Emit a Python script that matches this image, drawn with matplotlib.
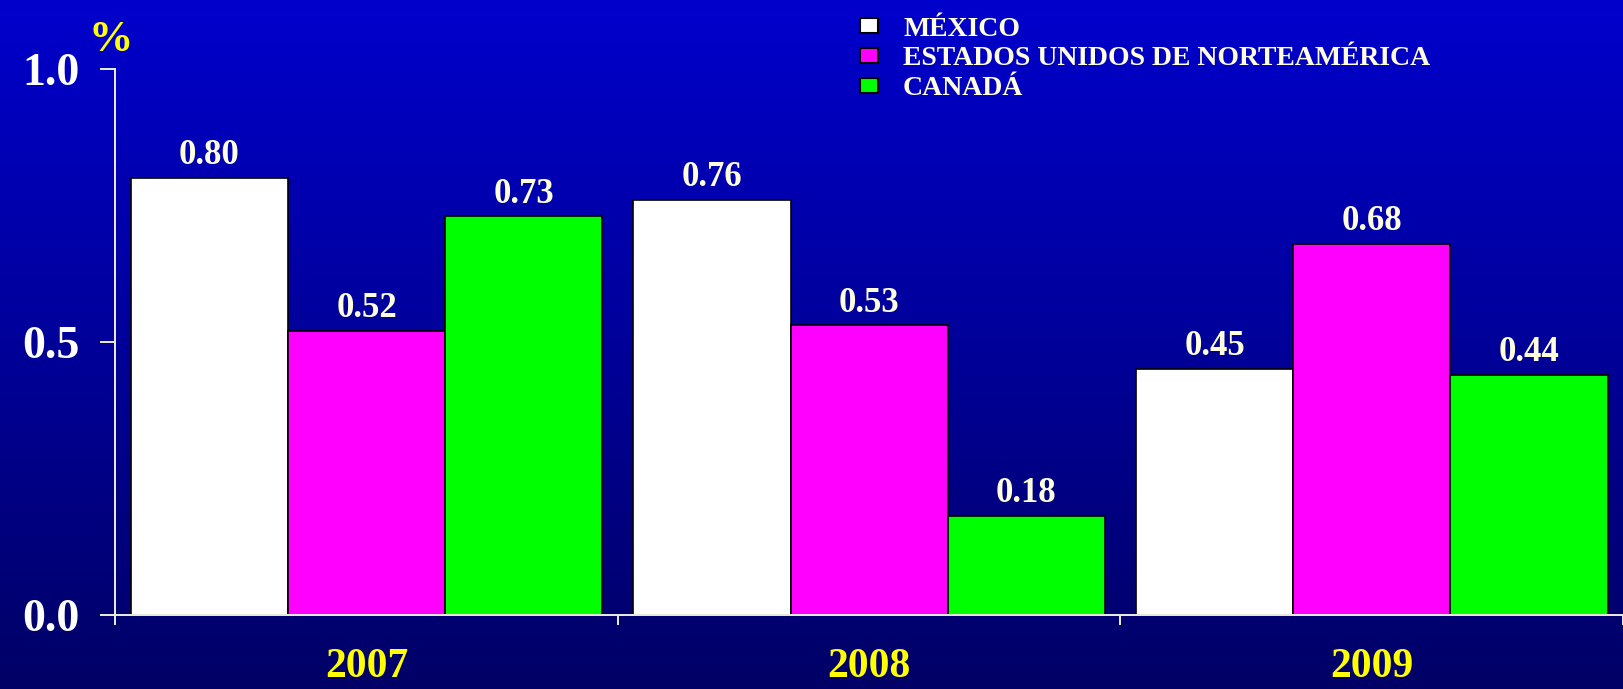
import numpy as np
import matplotlib.pyplot as plt
from matplotlib.patches import Patch
from matplotlib.colors import LinearSegmentedColormap

years = ['2007', '2008', '2009']
countries = ['MÉXICO', 'ESTADOS UNIDOS DE NORTEAMÉRICA', 'CANADÁ']
mexico = [0.80, 0.76, 0.45]
usa = [0.52, 0.53, 0.68]
canada = [0.73, 0.18, 0.44]
colors = ['#FFFFFF', '#FF00FF', '#00FF00']

serif = 'Liberation Serif'
cream = '#FFFFDD'
axis_c = '#EEEED8'

fig = plt.figure(figsize=(16.23, 6.89), dpi=100)

# vertical blue gradient behind everything
bg = fig.add_axes([0, 0, 1, 1], zorder=-1)
grad = np.linspace(0, 1, 256).reshape(-1, 1)
cmap = LinearSegmentedColormap.from_list('bg', ['#0000CC', '#000066'])
bg.imshow(grad, aspect='auto', cmap=cmap, extent=[0, 1, 0, 1])
bg.axis('off')

ax = fig.add_axes([0.07104, 0.1081, 1 - 0.07104, 0.7915])
ax.patch.set_alpha(0)

x = np.arange(len(years))
w = 0.3128
for i, (vals, c) in enumerate(zip([mexico, usa, canada], colors)):
    bars = ax.bar(x + (i - 1) * w, vals, w, color=c, edgecolor='black',
                  linewidth=1.2, label=countries[i])
    for b, v in zip(bars, vals):
        ax.annotate(f'{v:.2f}', (b.get_x() + b.get_width() / 2, v),
                    xytext=(0, 10), textcoords='offset points',
                    ha='center', va='baseline', color=cream,
                    fontsize=25, fontweight='bold', family=serif)

ax.set_ylim(0, 1)
ax.set_xlim(-0.5, 2.472)

# spines
ax.spines['top'].set_visible(False)
ax.spines['right'].set_visible(False)
for s in ['left', 'bottom']:
    ax.spines[s].set_color(axis_c)
    ax.spines[s].set_linewidth(1.4)

# y axis
ax.set_yticks([0, 0.5, 1.0], ['0.0', '0.5', '1.0'])
ax.tick_params(axis='y', length=11, width=1.4, color=axis_c, pad=15,
               labelcolor='white', labelsize=33)
for lab in ax.get_yticklabels():
    lab.set_fontweight('bold')
    lab.set_family(serif)

# x axis: ticks between groups, year labels in the middle
ax.set_xticks([-0.5, 0.5, 1.5, 2.5])
ax.set_xticklabels([])
ax.tick_params(axis='x', which='major', length=7.5, width=1.4, color=axis_c)
ax.set_xticks(x, minor=True)
ax.set_xticklabels(years, minor=True)
ax.tick_params(axis='x', which='minor', length=0, pad=24,
               labelcolor='#FFFF00', labelsize=30)
for lab in ax.get_xticklabels(minor=True):
    lab.set_fontweight('bold')
    lab.set_family(serif)

fig.text(0.0681, 0.926, '%', color='#FFFF00', fontsize=32,
         fontweight='bold', family=serif, ha='center', va='baseline')

handles = [Patch(facecolor=c, edgecolor='black', linewidth=1.5) for c in colors]
leg = fig.legend(handles, countries, loc='upper left',
                 bbox_to_anchor=(0.5299, 0.976), frameon=False,
                 borderpad=0, borderaxespad=0, handlelength=0.65,
                 handleheight=0.45, handletextpad=0.9, labelspacing=0.17,
                 prop={'family': serif, 'weight': 'bold', 'size': 20})
for t in leg.get_texts():
    t.set_color(cream)

fig.savefig('out.png', dpi=100)
